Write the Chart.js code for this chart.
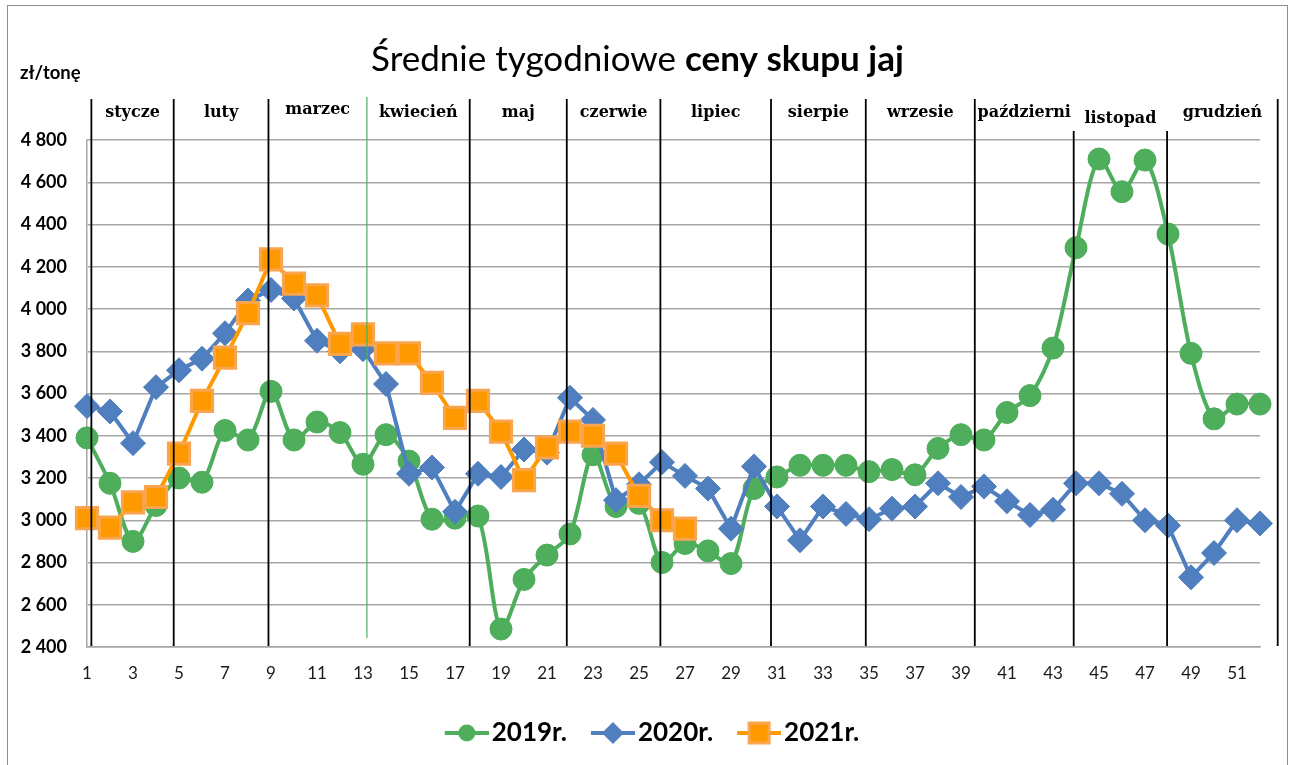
<!DOCTYPE html>
<html>
<head>
<meta charset="utf-8">
<title>Średnie tygodniowe ceny skupu jaj</title>
<script src="https://cdn.jsdelivr.net/npm/chart.js@4.4.1/dist/chart.umd.min.js"></script>
<style>
  html, body { margin: 0; padding: 0; background: #fff; }
  #wrap { position: relative; width: 1295px; height: 765px; }
</style>
</head>
<body>
<div id="wrap"><canvas id="myChart" width="1295" height="765"></canvas></div>
<script>

// dane - tygodnie, ceny zł/tonę
const weeks = ["1","2","3","4","5","6","7","8","9","10","11","12","13","14","15","16","17","18","19","20","21","22","23","24","25","26",
  "27","28","29","30","31","32","33","34","35","36","37","38","39","40","41","42","43","44","45","46","47","48","49","50","51","52"];

const prices2019 = [3390, 3175, 2900, 3070, 3200, 3180, 3425, 3380, 3610, 3380, 3465, 3415, 3265, 3405, 3280, 3005, 3010, 3020, 2485, 2720,
  2835, 2935, 3310, 3065, 3080, 2800, 2890, 2855, 2795, 3150, 3205, 3260, 3260, 3260, 3230, 3240, 3215, 3340, 3405, 3380,
  3510, 3590, 3815, 4290, 4710, 4555, 4705, 4355, 3790, 3480, 3550, 3550];

const prices2020 = [3540, 3515, 3365, 3630, 3710, 3765, 3885, 4040, 4090, 4050, 3850, 3800, 3810, 3645, 3220, 3250, 3040, 3220, 3205, 3335,
  3320, 3580, 3475, 3095, 3170, 3275, 3210, 3150, 2960, 3255, 3065, 2905, 3065, 3030, 3005, 3055, 3065, 3175, 3110, 3160,
  3090, 3025, 3050, 3175, 3175, 3125, 3000, 2975, 2730, 2845, 3000, 2985];

const prices2021 = [3010, 2965, 3085, 3110, 3315, 3565, 3770, 3980, 4235, 4120, 4065, 3835, 3880, 3790, 3790, 3650, 3485, 3565, 3420, 3190,
  3345, 3420, 3400, 3315, 3115, 3000, 2960];

const seriesNames = ["2019r.", "2020r.", "2021r."];
const yTicks = [2400, 2600, 2800, 3000, 3200, 3400, 3600, 3800, 4000, 4200, 4400, 4600, 4800];

// miesiące i linie podziału (w tygodniach)
const months = ["stycze", "luty", "marzec", "kwiecień", "maj", "czerwie", "lipiec", "sierpie", "wrzesie", "październi", "listopad", "grudzień"];
const monthBreaks = [1.19, 4.77, 8.89, 13.17, 17.64, 21.86, 25.93, 30.74, 34.86, 39.6, 43.9, 47.96, 52.77];

const GREEN = "#4EAE5B";
const BLUE = "#4F7FBE";
const ORANGE = "#FF9900";
const ORANGE_EDGE = "#F9A54F";

// ikonki do legendy: linia + znacznik
function legendIcon(kind) {
  const c = document.createElement("canvas");
  c.width = 68;
  c.height = 30;
  const g = c.getContext("2d");
  const color = kind === "circle" ? GREEN : kind === "diamond" ? BLUE : ORANGE;
  g.strokeStyle = color;
  g.lineWidth = 4;
  g.beginPath();
  g.moveTo(24, 15);
  g.lineTo(68, 15);
  g.stroke();
  g.fillStyle = color;
  if (kind === "circle") {
    g.beginPath();
    g.arc(46, 15, 8.5, 0, Math.PI * 2);
    g.fill();
  } else if (kind === "diamond") {
    g.beginPath();
    g.moveTo(46, 4);
    g.lineTo(57, 15);
    g.lineTo(46, 26);
    g.lineTo(35, 15);
    g.closePath();
    g.fill();
  } else {
    g.fillRect(36, 5, 20, 20);
    g.strokeStyle = ORANGE_EDGE;
    g.lineWidth = 3;
    g.strokeRect(36, 5, 20, 20);
  }
  return c;
}

const icons = [legendIcon("circle"), legendIcon("diamond"), legendIcon("square")];

function fmt(v) {
  return String(v).replace(/\B(?=(\d{3})+(?!\d))/g, " ");
}

// ramka, tytuł, jednostka, linie miesięcy
const decorPlugin = {
  id: "decor",
  afterLayout(chart) {
    // legenda wyśrodkowana jak w oryginale
    chart.legend.left = 30;
  },
  beforeDraw(chart) {
    const ctx = chart.ctx;
    ctx.save();
    ctx.fillStyle = "#fff";
    ctx.fillRect(0, 0, chart.width, chart.height);
    ctx.strokeStyle = "#8f8f8f";
    ctx.lineWidth = 1;
    ctx.strokeRect(7.5, 5.5, 1280, 800);

    // tytuł - część zwykła i pogrubiona
    const t1 = "Średnie tygodniowe ";
    const t2 = "ceny skupu jaj";
    ctx.fillStyle = "#000";
    ctx.textBaseline = "alphabetic";
    ctx.font = "35px Lato";
    const w1 = ctx.measureText(t1).width;
    ctx.font = "bold 35px Lato";
    const w2 = ctx.measureText(t2).width;
    const x0 = 637.5 - (w1 + w2) / 2;
    ctx.font = "35px Lato";
    ctx.fillText(t1, x0, 71);
    ctx.font = "bold 35px Lato";
    ctx.fillText(t2, x0 + w1, 71);

    ctx.font = "bold 18.5px Lato";
    ctx.fillText("zł/tonę", 20, 79);
    ctx.restore();
  },
  afterDatasetsDraw(chart) {
    const ctx = chart.ctx;
    const xs = chart.scales.x;
    ctx.save();
    monthBreaks.forEach((w, i) => {
      const x = xs.getPixelForValue(w - 1);
      const top = (i === 10 || i === 11) ? 131 : 99;
      ctx.beginPath();
      if (i === 3) {
        ctx.strokeStyle = GREEN;
        ctx.lineWidth = 1.2;
        ctx.moveTo(x, 97);
        ctx.lineTo(x, 638);
      } else {
        ctx.strokeStyle = "#000";
        ctx.lineWidth = 1.8;
        ctx.moveTo(x, top);
        ctx.lineTo(x, 646);
      }
      ctx.stroke();
    });

    ctx.fillStyle = "#000";
    ctx.font = "bold 16px 'DejaVu Serif'";
    ctx.textAlign = "center";
    ctx.textBaseline = "middle";
    months.forEach((m, i) => {
      const mid = (monthBreaks[i] + monthBreaks[i + 1]) / 2;
      const x = xs.getPixelForValue(mid - 1);
      const y = i === 10 ? 119 : (i === 2 ? 110 : 113);
      ctx.fillText(m, x, y);
    });
    ctx.restore();
  }
};

const ctx = document.getElementById("myChart");
new Chart(ctx, {
  type: "line",
  data: {
    labels: weeks,
    datasets: [
      {
        label: seriesNames[0],
        data: prices2019,
        borderColor: GREEN,
        backgroundColor: GREEN,
        borderWidth: 4,
        tension: 0.3,
        pointStyle: "circle",
        pointRadius: 11,
        pointBorderWidth: 1,
        order: 3,
      },
      {
        label: seriesNames[1],
        data: prices2020,
        borderColor: BLUE,
        backgroundColor: BLUE,
        borderWidth: 4,
        tension: 0,
        pointStyle: "rectRot",
        pointRadius: 12.5,
        pointBorderWidth: 1,
        order: 2,
      },
      {
        label: seriesNames[2],
        data: prices2021,
        borderColor: ORANGE,
        backgroundColor: ORANGE,
        pointBorderColor: ORANGE_EDGE,
        borderWidth: 4,
        tension: 0,
        pointStyle: "rect",
        pointRadius: 15,
        pointBorderWidth: 3,
        order: 1,
      },
    ],
  },
  options: {
    responsive: false,
    animation: false,
    devicePixelRatio: 1,
    layout: {
      padding: { left: 10, right: 35, top: 140, bottom: 9 },
    },
    plugins: {
      title: { display: false },
      tooltip: { enabled: false },
      legend: {
        display: true,
        position: "bottom",
        labels: {
          usePointStyle: true,
          pointStyleWidth: 48,
          padding: 10,
          color: "#000",
          font: { family: "Lato", size: 26, weight: "bold" },
          generateLabels: function (chart) {
            return chart.data.datasets.map((ds, i) => ({
              text: ds.label,
              pointStyle: icons[i],
              fillStyle: ds.backgroundColor,
              strokeStyle: ds.borderColor,
              lineWidth: 0,
              hidden: false,
              datasetIndex: i,
            }));
          },
        },
      },
    },
    scales: {
      x: {
        type: "category",
        offset: false,
        grid: { display: false, drawTicks: false },
        border: { display: true, color: "#a6a6a6", width: 1.5 },
        ticks: {
          autoSkip: false,
          maxRotation: 0,
          padding: 16,
          color: "#1a1a1a",
          font: { family: "Lato", size: 17 },
          callback: function (val, i) {
            return i % 2 === 0 ? weeks[i] : "";
          },
        },
        afterFit: function (s) {
          s.height = 63;
        },
      },
      y: {
        min: 2400,
        max: 4800,
        grid: { color: "#a6a6a6", lineWidth: 1.5, drawTicks: false },
        border: { display: true, color: "#a6a6a6", width: 1.5 },
        afterBuildTicks: function (s) {
          s.ticks = yTicks.map((v) => ({ value: v }));
        },
        ticks: {
          padding: 20,
          color: "#000",
          font: { family: "Lato", size: 18, weight: "bold" },
          callback: function (v) {
            return fmt(v);
          },
        },
        afterFit: function (s) {
          s.width = 77;
        },
      },
    },
  },
  plugins: [decorPlugin],
});

</script>
</body>
</html>
